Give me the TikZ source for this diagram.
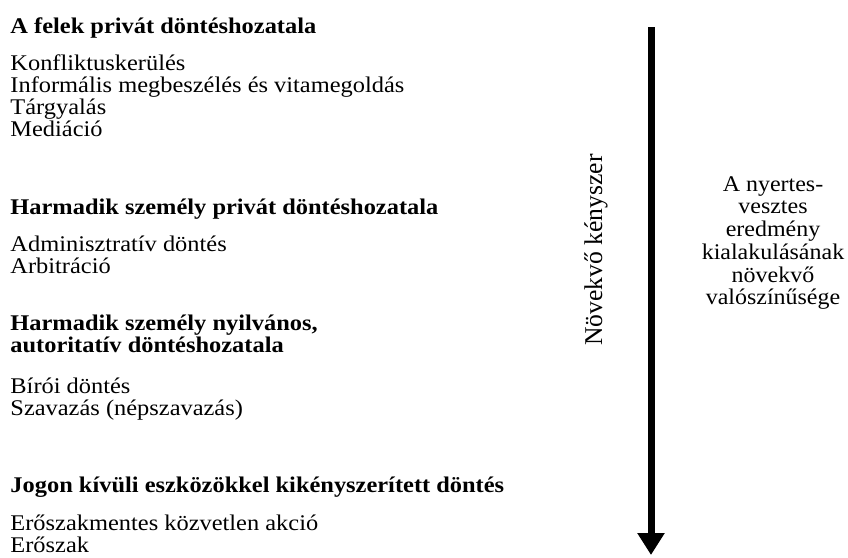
\documentclass[tikz,border=0pt]{standalone}
\usepackage{fontspec}
\setmainfont{Liberation Serif}
\usetikzlibrary{arrows.meta}

\tikzset{
  heading/.style={anchor=base west,inner sep=0pt,xscale=1.09,font=\fontsize{11.2}{11}\selectfont\bfseries},
  item/.style={anchor=base west,inner sep=0pt,xscale=1.09,font=\fontsize{11.2}{11}\selectfont},
  side/.style={anchor=base,inner sep=0pt,xscale=1.07,font=\fontsize{11.2}{11}\selectfont}
}

\begin{document}
\begin{tikzpicture}[x=0.5pt,y=-0.5pt]
        \useasboundingbox (0,0) rectangle (848,558);

        \begin{scope}[every node/.style={heading}]
          \node (h1)  at (10,33)  {A felek privát döntéshozatala};
          \node (h2)  at (10,214) {Harmadik személy privát döntéshozatala};
          \node (h3a) at (10,330) {Harmadik személy nyilvános,};
          \node (h3b) at (10,352) {autoritatív döntéshozatala};
          \node (h4)  at (10,492) {Jogon kívüli eszközökkel kikényszerített döntés};
        \end{scope}

        \begin{scope}[every node/.style={item}]
          \node (k1) at (10,70)  {Konfliktuskerülés};
          \node (k2) at (10,92)  {Informális megbeszélés és vitamegoldás};
          \node (k3) at (10,114) {Tárgyalás};
          \node (k4) at (10,136) {Mediáció};
          \node (a1) at (10,251) {Adminisztratív döntés};
          \node (a2) at (10,273) {Arbitráció};
          \node (b1) at (10,393) {Bírói döntés};
          \node (b2) at (10,415) {Szavazás (népszavazás)};
          \node (e1) at (10,530) {Erőszakmentes közvetlen akció};
          \node (e2) at (10,552) {Erőszak};
        \end{scope}

        \node[anchor=base,inner sep=0pt,rotate=90,font=\fontsize{12.8}{12}\selectfont]
          (kenyszer) at (602,250) {Növekvő kényszer};

        \begin{scope}[every node/.style={side}]
          \node (r1) at (773,191) {A nyertes-};
          \node (r2) at (773,213) {vesztes};
          \node (r3) at (773,236) {eredmény};
          \node (r4) at (773,259) {kialakulásának};
          \node (r5) at (773,282) {növekvő};
          \node (r6) at (773,304) {valószínűsége};
        \end{scope}

        \coordinate (top)    at (651,27);
        \coordinate (bottom) at (651,555);
        \draw[line width=3.5pt,-{Triangle[width=13pt,length=11pt]}] (top) -- (bottom);

      \end{tikzpicture}
\end{document}
